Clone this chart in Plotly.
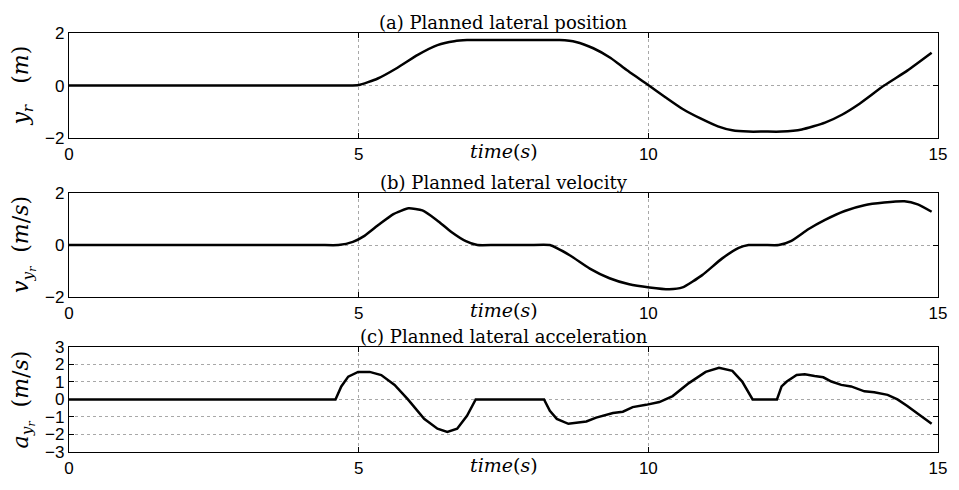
import plotly.graph_objects as go
from plotly.subplots import make_subplots

# (a) planned lateral position y_r (m)
t_pos = [0, 1, 2, 3, 3.5, 4.0, 4.47, 4.82, 5.0, 5.33, 5.67, 6.02, 6.36, 6.65, 6.87,
         7.2, 7.5, 7.8, 8.1, 8.47, 8.75, 9.05, 9.35, 9.62, 10.01, 10.3, 10.6, 10.9,
         11.2, 11.45, 11.73, 12.0, 12.30, 12.65, 13.05, 13.35, 13.62, 14.07, 14.47, 14.89]
y_pos = [0, 0, 0, 0, 0, 0, 0, 0.0, 0.02, 0.27, 0.68, 1.17, 1.54, 1.69, 1.73,
         1.73, 1.73, 1.73, 1.73, 1.73, 1.66, 1.42, 1.05, 0.60, 0.0, -0.45, -0.90, -1.25,
         -1.55, -1.70, -1.75, -1.75, -1.75, -1.67, -1.41, -1.10, -0.73, 0.0, 0.57, 1.25]

# (b) planned lateral velocity v_yr (m/s)
t_vel = [0, 1, 2, 3, 3.5, 4.0, 4.35, 4.65, 4.9, 5.1, 5.35, 5.6, 5.86, 6.1, 6.35,
         6.6, 6.85, 7.05, 7.35, 7.65, 7.95, 8.30, 8.65, 8.99, 9.33, 9.67, 10.02,
         10.36, 10.59, 10.93, 11.27, 11.56, 11.73, 12.0, 12.25, 12.47, 12.76, 13.05,
         13.39, 13.73, 14.07, 14.42, 14.65, 14.89]
v_vel = [0, 0, 0, 0, 0, 0, 0, 0, 0.12, 0.35, 0.78, 1.18, 1.40, 1.32, 0.95,
         0.50, 0.15, 0, 0, 0, 0, 0, -0.40, -0.90, -1.27, -1.50, -1.62,
         -1.69, -1.62, -1.15, -0.52, -0.11, 0, 0, 0, 0.16, 0.60, 0.96,
         1.30, 1.52, 1.62, 1.67, 1.55, 1.27]

# (c) planned lateral acceleration a_yr
t_acc = [0, 4.60, 4.70, 4.82, 4.99, 5.19, 5.39, 5.62, 5.85, 6.13, 6.36, 6.53, 6.70,
         6.87, 7.02, 8.20, 8.30, 8.42, 8.62, 8.93, 9.10, 9.39, 9.56, 9.73, 9.96,
         10.19, 10.42, 10.70, 10.99, 11.22, 11.45, 11.62, 11.80, 12.22, 12.30,
         12.39, 12.56, 12.70, 12.87, 13.02, 13.16, 13.33, 13.50, 13.73, 13.90, 14.13,
         14.30, 14.47, 14.70, 14.89]
a_acc = [0, 0, 0.74, 1.30, 1.57, 1.57, 1.39, 0.83, 0.0, -1.11, -1.67, -1.85, -1.67,
         -0.93, 0, 0, -0.65, -1.11, -1.39, -1.26, -1.04, -0.78, -0.70, -0.44, -0.31,
         -0.15, 0.19, 0.93, 1.57, 1.81, 1.63, 1.02, 0, 0, 0.74,
         1.02, 1.39, 1.43, 1.33, 1.26, 1.02, 0.83, 0.74, 0.46, 0.41, 0.26,
         0.0, -0.37, -0.93, -1.39]

x_ticks = [0, 5, 10, 15]
y_ticks_ab = [-2, 0, 2]
y_ticks_c = [-3, -2, -1, 0, 1, 2, 3]

titles = ["(a) Planned lateral position",
          "(b) Planned lateral velocity",
          "(c) Planned lateral acceleration"]
ylabels = ["<i>y<sub>r</sub></i>&nbsp;&nbsp;&nbsp;(<i>m</i>)",
           "<i>v<sub>y<sub>r</sub></sub></i>&nbsp;&nbsp;(<i>m</i>/<i>s</i>)",
           "<i>a<sub>y<sub>r</sub></sub></i>&nbsp;&nbsp;(<i>m</i>/<i>s</i>)"]

SERIF = "DejaVu Serif"
SANS = "Liberation Sans"

fig = make_subplots(rows=3, cols=1)

series = [(t_pos, y_pos, 'spline'), (t_vel, v_vel, 'spline'), (t_acc, a_acc, 'linear')]
for i, (tx, vy, shp) in enumerate(series, start=1):
    fig.add_trace(go.Scatter(
        x=tx, y=vy, mode='lines',
        line=dict(color='black', width=2.5, shape=shp, smoothing=0.5),
        showlegend=False, hoverinfo='skip'
    ), row=i, col=1)

domains = [[0.749, 1.0], [0.369, 0.619], [0.0, 0.251]]
yranges = [[-2, 2], [-2, 2], [-3, 3]]
yticks = [y_ticks_ab, y_ticks_ab, y_ticks_c]

axis_common = dict(
    showline=True, linecolor='black', linewidth=1.3, mirror='ticks',
    ticks='inside', ticklen=5, tickcolor='black',
    showgrid=True, gridcolor='#a8a8a8', gridwidth=1, griddash='dot',
    zeroline=False, tickfont=dict(family=SANS, size=17, color='black'),
)

for i in range(3):
    xa = 'xaxis' if i == 0 else f'xaxis{i+1}'
    ya = 'yaxis' if i == 0 else f'yaxis{i+1}'
    fig.update_layout({
        xa: dict(range=[0, 15], tickvals=x_ticks, **axis_common),
        ya: dict(range=yranges[i], tickvals=yticks[i], domain=domains[i],
                 automargin=False, **axis_common),
    })
    xref = 'x domain' if i == 0 else f'x{i+1} domain'
    yref = 'y domain' if i == 0 else f'y{i+1} domain'
    # panel title
    fig.add_annotation(text=titles[i], xref=xref, yref=yref, x=0.5, y=1.0,
                       xanchor='center', yanchor='bottom', showarrow=False,
                       borderpad=0, yshift=-1,
                       font=dict(family=SERIF, size=18, color='black'))
    # x label
    fig.add_annotation(text="<i>time</i>(<i>s</i>)", xref=xref, yref=yref,
                       x=0.5, y=0.0, xanchor='center', yanchor='top',
                       showarrow=False, borderpad=0, yshift=-1,
                       font=dict(family=SERIF, size=19, color='black'))
    # y label
    fig.add_annotation(text=ylabels[i], xref='paper', yref=yref,
                       x=0, y=0.5, xanchor='center', yanchor='middle',
                       xshift=-46, textangle=-90, showarrow=False, borderpad=0,
                       font=dict(family=SERIF, size=22, color='black'))

fig.update_layout(
    width=959, height=490,
    margin=dict(l=69, r=15, t=33, b=26),
    plot_bgcolor='white', paper_bgcolor='white',
)

fig.write_html("out.html", config={'displayModeBar': False},
               post_script="document.body.style.margin='0';")
